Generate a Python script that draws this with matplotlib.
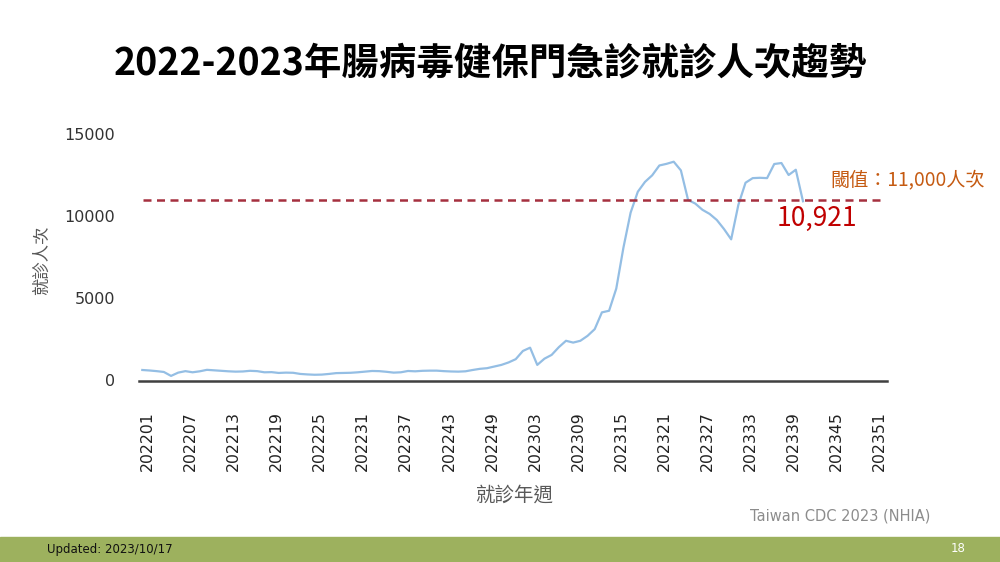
import matplotlib.pyplot as plt
from matplotlib.patches import Rectangle
from matplotlib.transforms import ScaledTranslation

# weekly categories 2022 wk1 .. 2023 wk51
weeks = [f"2022{w:02d}" for w in range(1, 53)] + [f"2023{w:02d}" for w in range(1, 52)]

# visits per week (202201 .. 202341)
visits = [
    640, 610, 570, 520, 280, 480, 570, 500, 560, 650,
    620, 590, 560, 540, 550, 590, 570, 500, 510, 460,
    480, 470, 400, 370, 350, 360, 400, 450, 460, 470,
    500, 540, 580, 570, 530, 480, 500, 580, 560, 590,
    600, 600, 570, 550, 540, 560, 640, 710, 750, 850,
    950, 1100, 1300, 1800, 2000, 950, 1330, 1560, 2030, 2420,
    2310, 2420, 2720, 3130, 4150, 4250, 5600, 8100, 10230, 11500,
    12100, 12500, 13100, 13200, 13330, 12800, 11000, 10780, 10400, 10150,
    9780, 9230, 8600, 10700, 12050, 12330, 12350, 12330, 13190, 13250,
    12520, 12840, 10921,
]

THRESHOLD = 11000
yticks = [0, 5000, 10000, 15000]

CJK = ['Noto Sans CJK TC', 'DejaVu Sans']

fig = plt.figure(figsize=(10, 5.62), dpi=100)
ax = fig.add_axes([0.139, 1 - 380.5 / 562, 0.748, (380.5 - 134.3) / 562])

x = list(range(len(visits)))
ax.plot(x, visits, color='#94BEE4', lw=1.6, solid_joinstyle='round')
ax.axhline(THRESHOLD, xmin=0.005, xmax=0.995, color='#A5303F', lw=1.8,
           dashes=(3.2, 2.2))

ax.set_xlim(-0.46, 103.7)
ax.set_ylim(0, 15000)
ax.set_yticks(yticks)
ax.set_yticklabels([str(v) for v in yticks], fontsize=11.5, color='#333333')
tick_idx = list(range(0, len(weeks), 6))
ax.set_xticks(tick_idx)
ax.set_xticklabels([weeks[i] for i in tick_idx], rotation=90, fontsize=11.3,
                   color='#222222')
ax.tick_params(axis='x', length=0, pad=22)
ax.tick_params(axis='y', length=0, pad=17)
for lab in ax.get_xticklabels():
    lab.set_transform(lab.get_transform() + ScaledTranslation(0.05, 0, fig.dpi_scale_trans))

for s in ['top', 'right', 'left']:
    ax.spines[s].set_visible(False)
ax.spines['bottom'].set_color('#404040')
ax.spines['bottom'].set_linewidth(1.8)

# axis titles
fig.text(0.042, 1 - 260 / 562, '就診人次', rotation=90, ha='center', va='center',
         fontsize=12.5, color='#595959', family=CJK)
fig.text(0.514, 1 - 495 / 562, '就診年週', ha='center', va='center',
         fontsize=14, color='#595959', family=CJK)

# title
fig.text(0.49, 1 - 63 / 562, '2022-2023年腸病毒健保門急診就診人次趨勢',
         ha='center', va='center', fontsize=27, weight='bold', family=CJK)

# annotations
fig.text(0.985, 1 - 180 / 562, '閾值：11,000人次', ha='right', va='center',
         fontsize=13.8, color='#C55A11', family=CJK)
fig.text(0.817, 1 - 218 / 562, f"{visits[-1]:,}", ha='center', va='center',
         fontsize=19, color='#C00000', family=CJK)
fig.text(0.930, 1 - 516 / 562, 'Taiwan CDC 2023 (NHIA)', ha='right', va='center',
         fontsize=10.5, color='#8C8C8C')

# footer bar
fig.patches.append(Rectangle((0, 0), 1, 25 / 562, transform=fig.transFigure,
                             color='#9DB15E', zorder=0))
fig.text(0.047, 12 / 562, 'Updated: 2023/10/17', ha='left', va='center',
         fontsize=8.5, color='#111111')
fig.text(0.958, 13 / 562, '18', ha='center', va='center', fontsize=8.5,
         color='white')

fig.savefig('out.png', dpi=100)
